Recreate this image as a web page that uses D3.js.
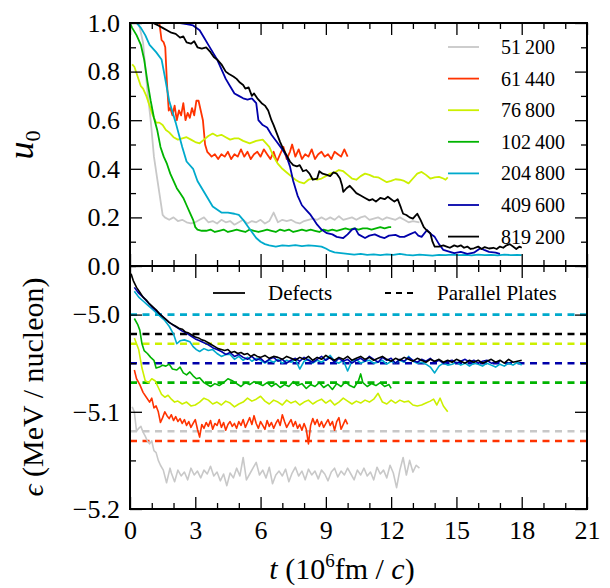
<!DOCTYPE html>
<html>
<head>
<meta charset="utf-8">
<script src="https://cdn.jsdelivr.net/npm/d3@7"></script>
<style>
body { margin: 0; background: #fff; }
svg text { font-family: "Liberation Serif", "DejaVu Serif", serif; fill: #000; }
</style>
</head>
<body>
<div id="chart"></div>
<script>
// system sizes (number of nucleons) and their colours
var sizes = ["51\u2009200", "61\u2009440", "76\u2009800", "102\u2009400", "204\u2009800", "409\u2009600", "819\u2009200"];
var colors = ["#c8c8c8", "#ff3300", "#ccf000", "#00b400", "#00aacc", "#0000aa", "#000000"];

// parallel plates energies (MeV/nucleon), same order as sizes
var plates = [-5.12, -5.13, -5.03, -5.07, -5.00, -5.05, -5.02];

// top panel: u0 vs t (10^6 fm/c)
var u51200 = [[0,1.0],[0.4,1.0],[0.6,0.92],[0.8,0.72],[0.95,0.6],[1.1,0.45],[1.25,0.36],[1.35,0.3],[1.5,0.21],[1.6,0.2],[1.8,0.19],[2.0,0.2],[2.2,0.185],[2.4,0.19],[2.6,0.18],[2.8,0.175],[3.0,0.18],[3.2,0.19],[3.4,0.2],[3.6,0.18],[3.8,0.185],[4.0,0.175],[4.2,0.19],[4.4,0.18],[4.6,0.185],[4.8,0.17],[5.0,0.18],[5.2,0.19],[5.4,0.175],[5.6,0.185],[5.8,0.18],[6.0,0.19],[6.2,0.175],[6.4,0.185],[6.6,0.22],[6.8,0.18],[7.0,0.19],[7.2,0.185],[7.4,0.19],[7.6,0.18],[7.8,0.175],[8.0,0.185],[8.2,0.19],[8.4,0.195],[8.6,0.19],[8.8,0.2],[9.0,0.19],[9.2,0.2],[9.4,0.19],[9.6,0.205],[9.8,0.19],[10.0,0.195],[10.2,0.2],[10.4,0.19],[10.6,0.2],[10.8,0.205],[11.0,0.19],[11.2,0.195],[11.4,0.2],[11.6,0.19],[11.8,0.2],[12.0,0.195],[12.2,0.19],[12.4,0.2],[12.6,0.19],[12.8,0.18],[13.0,0.185],[13.3,0.18]];
var u61440 = [[1.2,1.0],[1.35,1.0],[1.45,0.93],[1.55,0.92],[1.62,0.9],[1.7,0.75],[1.78,0.64],[1.85,0.65],[1.95,0.62],[2.05,0.66],[2.15,0.6],[2.25,0.64],[2.35,0.62],[2.45,0.67],[2.55,0.6],[2.65,0.63],[2.75,0.61],[2.85,0.65],[2.95,0.62],[3.05,0.68],[3.15,0.68],[3.25,0.64],[3.35,0.6],[3.45,0.5],[3.55,0.47],[3.65,0.46],[3.75,0.45],[3.9,0.46],[4.05,0.44],[4.2,0.46],[4.35,0.45],[4.5,0.47],[4.65,0.44],[4.8,0.46],[4.95,0.45],[5.1,0.48],[5.25,0.45],[5.4,0.47],[5.55,0.44],[5.7,0.46],[5.85,0.47],[6.0,0.45],[6.15,0.48],[6.3,0.46],[6.45,0.44],[6.6,0.47],[6.75,0.43],[6.9,0.46],[7.05,0.49],[7.2,0.44],[7.35,0.47],[7.45,0.5],[7.6,0.45],[7.75,0.48],[7.9,0.44],[8.05,0.46],[8.2,0.45],[8.35,0.48],[8.5,0.44],[8.65,0.46],[8.8,0.47],[8.95,0.45],[9.1,0.46],[9.25,0.44],[9.4,0.47],[9.55,0.46],[9.7,0.45],[9.85,0.48],[10.0,0.45]];
var u76800 = [[0.1,0.83],[0.2,0.82],[0.35,0.78],[0.5,0.74],[0.6,0.73],[0.75,0.7],[0.9,0.66],[1.05,0.62],[1.2,0.59],[1.35,0.59],[1.5,0.58],[1.65,0.56],[1.8,0.55],[2.0,0.53],[2.2,0.52],[2.4,0.525],[2.6,0.53],[2.8,0.52],[3.0,0.51],[3.2,0.505],[3.4,0.52],[3.6,0.535],[3.8,0.545],[4.0,0.535],[4.2,0.54],[4.4,0.53],[4.6,0.52],[4.8,0.525],[5.0,0.525],[5.2,0.515],[5.5,0.505],[5.8,0.515],[6.1,0.52],[6.4,0.49],[6.6,0.45],[6.8,0.42],[7.0,0.4],[7.2,0.385],[7.4,0.37],[7.6,0.355],[7.8,0.345],[8.0,0.34],[8.2,0.355],[8.4,0.36],[8.6,0.355],[8.8,0.36],[9.0,0.37],[9.2,0.38],[9.4,0.385],[9.6,0.395],[9.8,0.39],[10.0,0.375],[10.2,0.36],[10.4,0.355],[10.6,0.37],[10.8,0.38],[11.0,0.375],[11.2,0.367],[11.4,0.365],[11.6,0.355],[11.8,0.345],[12.0,0.35],[12.2,0.357],[12.4,0.355],[12.6,0.35],[12.8,0.34],[13.0,0.36],[13.2,0.38],[13.4,0.387],[13.6,0.375],[13.8,0.36],[14.0,0.365],[14.2,0.367],[14.4,0.36],[14.5,0.355],[14.6,0.365]];
var u102400 = [[0,1.0],[0.1,0.98],[0.3,0.95],[0.5,0.91],[0.65,0.85],[0.8,0.76],[0.95,0.68],[1.1,0.61],[1.25,0.56],[1.4,0.49],[1.55,0.45],[1.7,0.42],[1.85,0.38],[2.0,0.35],[2.15,0.32],[2.3,0.3],[2.45,0.28],[2.6,0.25],[2.75,0.22],[2.9,0.19],[3.0,0.16],[3.1,0.15],[3.3,0.145],[3.5,0.145],[3.7,0.15],[3.9,0.14],[4.1,0.145],[4.3,0.15],[4.5,0.14],[4.7,0.145],[4.9,0.15],[5.1,0.145],[5.3,0.14],[5.5,0.15],[5.7,0.145],[5.9,0.14],[6.1,0.145],[6.3,0.15],[6.5,0.145],[6.7,0.14],[6.9,0.15],[7.1,0.145],[7.3,0.15],[7.5,0.14],[7.7,0.145],[7.9,0.15],[8.1,0.145],[8.3,0.15],[8.5,0.145],[8.7,0.14],[8.9,0.15],[9.1,0.145],[9.3,0.15],[9.5,0.145],[9.7,0.15],[9.9,0.155],[10.1,0.15],[10.3,0.155],[10.5,0.15],[10.7,0.155],[10.9,0.155],[11.1,0.15],[11.3,0.155],[11.5,0.16],[11.7,0.155],[11.9,0.16],[12.0,0.16]];
var u204800 = [[0,1.0],[0.3,1.0],[0.5,0.98],[0.7,0.95],[0.9,0.91],[1.2,0.88],[1.45,0.85],[1.6,0.78],[1.8,0.68],[2.1,0.59],[2.4,0.49],[2.6,0.43],[2.9,0.4],[3.1,0.35],[3.5,0.29],[3.8,0.245],[4.2,0.22],[4.5,0.22],[4.8,0.215],[5.0,0.21],[5.2,0.19],[5.4,0.165],[5.6,0.14],[5.8,0.115],[6.0,0.1],[6.2,0.09],[6.4,0.085],[6.7,0.08],[7.0,0.085],[7.3,0.083],[7.6,0.086],[7.9,0.082],[8.2,0.085],[8.5,0.083],[8.8,0.08],[9.0,0.072],[9.2,0.062],[9.4,0.056],[9.7,0.053],[10.0,0.05],[10.3,0.047],[10.6,0.05],[10.9,0.046],[11.2,0.048],[11.5,0.045],[11.8,0.048],[12.1,0.046],[12.4,0.05],[12.7,0.046],[13.0,0.044],[13.3,0.047],[13.6,0.045],[13.9,0.043],[14.2,0.046],[14.5,0.045],[14.8,0.047],[15.1,0.045],[15.4,0.046],[15.7,0.044],[16.0,0.047],[16.3,0.045],[16.6,0.046],[16.9,0.044],[17.2,0.047],[17.5,0.045],[17.8,0.046],[18.0,0.045]];
var u409600 = [[0,1.0],[2.3,1.0],[2.6,0.995],[2.9,0.99],[3.2,0.97],[3.4,0.94],[3.6,0.91],[3.8,0.88],[4.0,0.85],[4.2,0.81],[4.4,0.77],[4.6,0.74],[4.8,0.71],[5.0,0.7],[5.2,0.69],[5.4,0.685],[5.6,0.69],[5.8,0.67],[5.9,0.6],[6.1,0.58],[6.3,0.57],[6.5,0.54],[6.75,0.51],[7.0,0.48],[7.2,0.45],[7.35,0.41],[7.5,0.35],[7.7,0.29],[7.9,0.25],[8.1,0.23],[8.3,0.21],[8.45,0.19],[8.6,0.17],[8.8,0.15],[9.05,0.135],[9.3,0.13],[9.5,0.12],[9.8,0.115],[10.0,0.13],[10.2,0.15],[10.35,0.155],[10.5,0.13],[10.8,0.115],[11.0,0.125],[11.25,0.13],[11.5,0.12],[11.7,0.115],[11.9,0.125],[12.2,0.128],[12.4,0.12],[12.6,0.12],[12.85,0.13],[13.1,0.14],[13.25,0.125],[13.4,0.12],[13.65,0.148],[13.85,0.13],[14.0,0.12],[14.2,0.09],[14.4,0.066],[14.7,0.058],[14.9,0.053],[15.2,0.058],[15.5,0.05],[15.8,0.055],[16.1,0.073],[16.3,0.065],[16.5,0.058],[16.8,0.055],[17.0,0.05]];
var u819200 = [[0,1.0],[1.05,1.0],[1.3,0.99],[1.5,0.98],[1.7,0.97],[1.9,0.96],[2.1,0.955],[2.3,0.94],[2.45,0.945],[2.6,0.92],[2.8,0.915],[2.95,0.925],[3.1,0.9],[3.3,0.895],[3.5,0.9],[3.7,0.88],[3.85,0.86],[4.0,0.85],[4.2,0.83],[4.4,0.8],[4.55,0.79],[4.75,0.78],[4.9,0.77],[5.05,0.755],[5.2,0.745],[5.3,0.73],[5.45,0.735],[5.6,0.7],[5.7,0.71],[5.85,0.69],[6.05,0.67],[6.2,0.66],[6.35,0.64],[6.5,0.6],[6.6,0.58],[6.75,0.545],[6.9,0.51],[7.05,0.48],[7.2,0.455],[7.35,0.43],[7.5,0.415],[7.67,0.41],[7.8,0.415],[7.95,0.39],[8.1,0.395],[8.25,0.38],[8.4,0.355],[8.6,0.36],[8.7,0.39],[8.85,0.38],[9.05,0.375],[9.2,0.37],[9.35,0.385],[9.5,0.38],[9.65,0.36],[9.75,0.33],[9.8,0.305],[9.95,0.32],[10.1,0.33],[10.25,0.315],[10.4,0.3],[10.6,0.29],[10.8,0.28],[11.0,0.27],[11.15,0.275],[11.3,0.265],[11.5,0.28],[11.7,0.275],[11.85,0.285],[12.0,0.275],[12.15,0.265],[12.3,0.275],[12.45,0.24],[12.55,0.215],[12.7,0.21],[12.85,0.2],[13.0,0.195],[13.1,0.205],[13.2,0.215],[13.35,0.19],[13.5,0.16],[13.65,0.145],[13.8,0.135],[13.9,0.1],[14.0,0.08],[14.2,0.08],[14.4,0.085],[14.55,0.08],[14.7,0.075],[14.9,0.085],[15.05,0.08],[15.2,0.085],[15.35,0.075],[15.5,0.08],[15.65,0.07],[15.8,0.073],[16.0,0.08],[16.15,0.07],[16.3,0.078],[16.5,0.072],[16.7,0.075],[16.85,0.07],[17.0,0.08],[17.15,0.075],[17.3,0.085],[17.45,0.09],[17.6,0.08],[17.75,0.07],[17.9,0.08],[18.0,0.075]];

// bottom panel: energy per nucleon (MeV) vs t, defects runs
var e51200 = [[0.1,-5.095],[0.2,-5.1],[0.3,-5.12],[0.4,-5.117],[0.5,-5.115],[0.6,-5.121],[0.7,-5.125],[0.8,-5.13],[0.9,-5.133],[1.0,-5.13],[1.1,-5.14],[1.2,-5.142],[1.3,-5.15],[1.4,-5.155],[1.53,-5.16],[1.68,-5.173],[1.84,-5.158],[1.9,-5.163],[2.05,-5.172],[2.2,-5.16],[2.35,-5.166],[2.5,-5.162],[2.65,-5.17],[2.8,-5.158],[2.95,-5.165],[3.1,-5.161],[3.25,-5.168],[3.4,-5.16],[3.55,-5.164],[3.7,-5.156],[3.85,-5.166],[4.0,-5.162],[4.15,-5.171],[4.3,-5.164],[4.45,-5.176],[4.6,-5.163],[4.75,-5.168],[4.9,-5.158],[5.05,-5.166],[5.2,-5.147],[5.35,-5.17],[5.5,-5.164],[5.65,-5.158],[5.8,-5.152],[5.95,-5.165],[6.1,-5.16],[6.25,-5.168],[6.4,-5.157],[6.55,-5.174],[6.7,-5.165],[6.85,-5.161],[7.0,-5.166],[7.15,-5.159],[7.3,-5.172],[7.45,-5.163],[7.6,-5.157],[7.75,-5.166],[7.9,-5.161],[8.05,-5.17],[8.2,-5.159],[8.35,-5.165],[8.5,-5.161],[8.65,-5.169],[8.8,-5.16],[8.95,-5.164],[9.1,-5.171],[9.25,-5.162],[9.4,-5.158],[9.55,-5.167],[9.7,-5.161],[9.85,-5.165],[10.0,-5.158],[10.15,-5.164],[10.3,-5.17],[10.45,-5.16],[10.6,-5.165],[10.75,-5.158],[10.9,-5.166],[11.05,-5.162],[11.2,-5.17],[11.35,-5.157],[11.5,-5.164],[11.65,-5.16],[11.8,-5.168],[11.95,-5.155],[12.1,-5.163],[12.25,-5.178],[12.4,-5.16],[12.55,-5.147],[12.7,-5.165],[12.85,-5.15],[13.0,-5.162],[13.15,-5.155],[13.3,-5.158]];
var e61440 = [[0.2,-5.057],[0.3,-5.066],[0.45,-5.072],[0.6,-5.08],[0.75,-5.085],[0.9,-5.09],[1.0,-5.086],[1.1,-5.096],[1.2,-5.094],[1.3,-5.1],[1.4,-5.111],[1.5,-5.106],[1.6,-5.1],[1.7,-5.104],[1.8,-5.107],[1.9,-5.103],[2.0,-5.109],[2.1,-5.105],[2.2,-5.11],[2.3,-5.107],[2.4,-5.112],[2.5,-5.108],[2.6,-5.114],[2.7,-5.11],[2.8,-5.116],[2.9,-5.112],[3.0,-5.108],[3.1,-5.118],[3.2,-5.126],[3.3,-5.113],[3.4,-5.117],[3.5,-5.111],[3.6,-5.115],[3.7,-5.109],[3.8,-5.118],[3.9,-5.112],[4.0,-5.114],[4.1,-5.108],[4.2,-5.116],[4.3,-5.111],[4.4,-5.119],[4.5,-5.113],[4.6,-5.11],[4.7,-5.115],[4.8,-5.112],[4.9,-5.117],[5.0,-5.11],[5.1,-5.114],[5.2,-5.108],[5.3,-5.116],[5.4,-5.111],[5.5,-5.106],[5.6,-5.113],[5.7,-5.104],[5.8,-5.112],[5.9,-5.117],[6.0,-5.11],[6.1,-5.114],[6.2,-5.118],[6.3,-5.109],[6.4,-5.115],[6.5,-5.111],[6.6,-5.117],[6.7,-5.112],[6.8,-5.108],[6.9,-5.114],[7.0,-5.103],[7.1,-5.11],[7.2,-5.116],[7.3,-5.112],[7.4,-5.108],[7.5,-5.115],[7.6,-5.11],[7.7,-5.117],[7.8,-5.113],[7.9,-5.119],[8.0,-5.112],[8.1,-5.118],[8.2,-5.133],[8.3,-5.114],[8.4,-5.107],[8.5,-5.113],[8.6,-5.108],[8.7,-5.115],[8.8,-5.11],[8.9,-5.116],[9.0,-5.112],[9.1,-5.108],[9.2,-5.114],[9.3,-5.11],[9.4,-5.119],[9.5,-5.11],[9.6,-5.106],[9.7,-5.118],[9.8,-5.113],[9.9,-5.108],[10.0,-5.113]];
var e76800 = [[0.2,-5.024],[0.3,-5.03],[0.4,-5.036],[0.55,-5.055],[0.7,-5.068],[0.85,-5.07],[1.0,-5.066],[1.15,-5.068],[1.3,-5.075],[1.45,-5.082],[1.6,-5.085],[1.75,-5.083],[1.9,-5.087],[2.05,-5.09],[2.2,-5.089],[2.4,-5.092],[2.6,-5.09],[2.8,-5.094],[3.0,-5.093],[3.2,-5.09],[3.4,-5.086],[3.6,-5.088],[3.8,-5.092],[4.0,-5.09],[4.2,-5.093],[4.4,-5.089],[4.6,-5.091],[4.8,-5.095],[5.0,-5.092],[5.2,-5.09],[5.4,-5.086],[5.6,-5.089],[5.8,-5.087],[6.0,-5.084],[6.2,-5.089],[6.4,-5.092],[6.6,-5.088],[6.8,-5.09],[7.0,-5.093],[7.2,-5.088],[7.4,-5.091],[7.6,-5.089],[7.8,-5.093],[8.0,-5.09],[8.2,-5.088],[8.4,-5.092],[8.6,-5.089],[8.8,-5.087],[9.0,-5.091],[9.2,-5.088],[9.4,-5.093],[9.6,-5.09],[9.8,-5.086],[10.0,-5.089],[10.2,-5.092],[10.4,-5.089],[10.6,-5.091],[10.8,-5.088],[11.0,-5.09],[11.2,-5.087],[11.4,-5.081],[11.6,-5.09],[11.8,-5.092],[12.0,-5.088],[12.2,-5.091],[12.4,-5.088],[12.6,-5.09],[12.8,-5.089],[13.0,-5.093],[13.2,-5.094],[13.4,-5.093],[13.6,-5.091],[13.8,-5.089],[13.95,-5.087],[14.1,-5.093],[14.25,-5.086],[14.4,-5.094],[14.6,-5.1]];
var e102400 = [[0.2,-5.004],[0.35,-5.01],[0.45,-5.016],[0.55,-5.03],[0.65,-5.037],[0.8,-5.04],[0.95,-5.044],[1.1,-5.047],[1.2,-5.055],[1.35,-5.054],[1.5,-5.052],[1.65,-5.053],[1.8,-5.051],[1.95,-5.056],[2.15,-5.057],[2.3,-5.054],[2.45,-5.06],[2.6,-5.062],[2.75,-5.059],[2.9,-5.063],[3.05,-5.066],[3.2,-5.065],[3.4,-5.07],[3.55,-5.072],[3.7,-5.074],[3.9,-5.071],[4.1,-5.073],[4.3,-5.07],[4.5,-5.066],[4.7,-5.068],[4.9,-5.071],[5.1,-5.074],[5.3,-5.07],[5.5,-5.072],[5.7,-5.069],[5.9,-5.071],[6.1,-5.073],[6.3,-5.07],[6.5,-5.074],[6.7,-5.071],[6.9,-5.075],[7.1,-5.072],[7.3,-5.074],[7.5,-5.069],[7.7,-5.073],[7.9,-5.071],[8.1,-5.076],[8.3,-5.072],[8.5,-5.074],[8.7,-5.07],[8.9,-5.075],[9.1,-5.072],[9.3,-5.077],[9.5,-5.071],[9.7,-5.074],[9.9,-5.069],[10.1,-5.073],[10.3,-5.075],[10.5,-5.068],[10.6,-5.061],[10.7,-5.07],[10.9,-5.074],[11.1,-5.071],[11.3,-5.073],[11.5,-5.07],[11.7,-5.074],[11.9,-5.072],[12.0,-5.076]];
var e204800 = [[0.2,-4.976],[0.4,-4.982],[0.6,-4.986],[0.8,-4.99],[1.0,-4.994],[1.2,-4.998],[1.4,-5.002],[1.6,-5.006],[1.8,-5.012],[2.0,-5.02],[2.15,-5.03],[2.3,-5.027],[2.5,-5.026],[2.75,-5.028],[2.9,-5.033],[3.05,-5.036],[3.2,-5.038],[3.4,-5.035],[3.6,-5.037],[3.8,-5.036],[4.0,-5.04],[4.2,-5.043],[4.4,-5.041],[4.6,-5.041],[4.8,-5.046],[5.0,-5.043],[5.2,-5.047],[5.4,-5.044],[5.6,-5.048],[5.8,-5.045],[6.0,-5.047],[6.2,-5.05],[6.4,-5.047],[6.6,-5.049],[6.8,-5.046],[7.0,-5.05],[7.2,-5.047],[7.4,-5.049],[7.6,-5.046],[7.8,-5.056],[8.0,-5.048],[8.2,-5.046],[8.4,-5.05],[8.6,-5.047],[8.8,-5.049],[9.0,-5.046],[9.2,-5.042],[9.4,-5.048],[9.6,-5.05],[9.8,-5.047],[10.0,-5.058],[10.2,-5.048],[10.4,-5.046],[10.6,-5.05],[10.8,-5.048],[11.0,-5.047],[11.2,-5.05],[11.4,-5.049],[11.6,-5.047],[11.8,-5.051],[12.0,-5.048],[12.2,-5.05],[12.4,-5.047],[12.6,-5.049],[12.8,-5.043],[13.0,-5.048],[13.2,-5.05],[13.4,-5.049],[13.6,-5.051],[13.8,-5.054],[14.0,-5.06],[14.2,-5.053],[14.4,-5.05],[14.6,-5.052],[14.8,-5.051],[15.0,-5.049],[15.2,-5.052],[15.4,-5.05],[15.6,-5.053],[15.8,-5.05],[16.0,-5.051],[16.2,-5.053],[16.4,-5.05],[16.6,-5.052],[16.8,-5.054],[17.0,-5.051],[17.2,-5.053],[17.4,-5.05],[17.6,-5.052],[17.8,-5.049],[18.0,-5.052]];
var e409600 = [[0.2,-4.972],[0.4,-4.978],[0.6,-4.982],[0.8,-4.987],[1.0,-4.992],[1.2,-4.996],[1.4,-5.0],[1.6,-5.004],[1.8,-5.008],[2.0,-5.011],[2.2,-5.014],[2.4,-5.017],[2.6,-5.019],[2.8,-5.022],[3.0,-5.025],[3.2,-5.027],[3.4,-5.029],[3.6,-5.031],[3.8,-5.034],[4.0,-5.036],[4.2,-5.038],[4.4,-5.041],[4.6,-5.039],[4.8,-5.043],[5.0,-5.041],[5.2,-5.044],[5.4,-5.046],[5.6,-5.043],[5.8,-5.047],[6.0,-5.045],[6.2,-5.049],[6.4,-5.046],[6.6,-5.044],[6.8,-5.048],[7.0,-5.046],[7.2,-5.05],[7.4,-5.047],[7.6,-5.045],[7.8,-5.048],[8.0,-5.044],[8.2,-5.047],[8.4,-5.049],[8.6,-5.046],[8.8,-5.043],[9.0,-5.047],[9.2,-5.044],[9.4,-5.049],[9.6,-5.045],[9.8,-5.048],[10.0,-5.046],[10.2,-5.05],[10.4,-5.047],[10.6,-5.045],[10.8,-5.048],[11.0,-5.043],[11.2,-5.046],[11.4,-5.049],[11.6,-5.044],[11.8,-5.047],[12.0,-5.045],[12.2,-5.05],[12.4,-5.046],[12.6,-5.048],[12.8,-5.044],[13.0,-5.047],[13.2,-5.049],[13.4,-5.046],[13.6,-5.048],[13.8,-5.045],[14.0,-5.049],[14.2,-5.047],[14.4,-5.05],[14.6,-5.048],[14.8,-5.047],[15.0,-5.05],[15.2,-5.048],[15.4,-5.046],[15.6,-5.049],[15.8,-5.047],[16.0,-5.05],[16.2,-5.048],[16.4,-5.047],[16.6,-5.05],[16.8,-5.049],[17.0,-5.048]];
var e819200 = [[0.05,-4.958],[0.15,-4.965],[0.3,-4.972],[0.45,-4.977],[0.6,-4.982],[0.75,-4.985],[0.9,-4.989],[1.05,-4.992],[1.2,-4.995],[1.35,-4.999],[1.5,-5.002],[1.65,-5.005],[1.8,-5.008],[1.95,-5.01],[2.1,-5.012],[2.25,-5.014],[2.4,-5.015],[2.55,-5.018],[2.7,-5.019],[2.85,-5.021],[3.0,-5.023],[3.15,-5.024],[3.3,-5.026],[3.45,-5.027],[3.6,-5.029],[3.75,-5.031],[3.9,-5.033],[4.05,-5.035],[4.2,-5.036],[4.35,-5.037],[4.5,-5.036],[4.65,-5.039],[4.8,-5.038],[4.95,-5.04],[5.1,-5.039],[5.25,-5.041],[5.4,-5.04],[5.55,-5.043],[5.7,-5.041],[5.85,-5.043],[6.0,-5.044],[6.2,-5.042],[6.4,-5.045],[6.6,-5.043],[6.8,-5.044],[7.0,-5.046],[7.2,-5.043],[7.4,-5.045],[7.6,-5.047],[7.8,-5.044],[8.0,-5.046],[8.2,-5.043],[8.4,-5.047],[8.6,-5.044],[8.8,-5.046],[9.0,-5.042],[9.2,-5.045],[9.4,-5.047],[9.6,-5.044],[9.8,-5.046],[10.0,-5.043],[10.2,-5.047],[10.4,-5.045],[10.6,-5.043],[10.8,-5.046],[11.0,-5.044],[11.2,-5.047],[11.4,-5.045],[11.6,-5.043],[11.8,-5.046],[12.0,-5.048],[12.2,-5.045],[12.4,-5.047],[12.6,-5.044],[12.8,-5.046],[13.0,-5.048],[13.2,-5.045],[13.4,-5.047],[13.6,-5.049],[13.8,-5.046],[14.0,-5.048],[14.2,-5.046],[14.4,-5.049],[14.6,-5.047],[14.8,-5.049],[15.0,-5.046],[15.2,-5.048],[15.4,-5.05],[15.6,-5.047],[15.8,-5.049],[16.0,-5.047],[16.2,-5.05],[16.4,-5.048],[16.6,-5.046],[16.8,-5.049],[17.0,-5.047],[17.2,-5.05],[17.4,-5.046],[17.6,-5.049],[17.8,-5.048],[18.0,-5.047]];

var uSeries = [u51200, u61440, u76800, u102400, u204800, u409600, u819200];
var eSeries = [e51200, e61440, e76800, e102400, e204800, e409600, e819200];

var xMajor = [0, 3, 6, 9, 12, 15, 18, 21];
var xMinor = [1, 2, 4, 5, 7, 8, 10, 11, 13, 14, 16, 17, 19, 20];
var uMajor = [0, 0.2, 0.4, 0.6, 0.8, 1.0];
var uMinor = [0.1, 0.3, 0.5, 0.7, 0.9];
var eMajor = [-5.2, -5.1, -5.0];
var eMinor = [-5.15, -5.05, -4.95];

var margin = { left: 130, top: 23 },
    width = 457,
    panelH = 243;

var svg = d3.select('#chart').append('svg')
    .attr('width', 610)
    .attr('height', 588);

var x = d3.scaleLinear().domain([0, 21]).range([0, width]);
var yTop = d3.scaleLinear().domain([0, 1]).range([panelH, 0]);
var yBot = d3.scaleLinear().domain([-5.2, -4.95]).range([panelH, 0]);

var topPanel = svg.append('g').attr('transform', 'translate(' + margin.left + ',' + margin.top + ')');
var botPanel = svg.append('g').attr('transform', 'translate(' + margin.left + ',' + (margin.top + panelH) + ')');

function drawTicks(g, y, yMaj, yMin, yFmt, showX) {
    var big = 12, small = 6;
    function style(a) {
        a.select('.domain').remove();
        a.selectAll('line').attr('stroke', '#000').attr('stroke-width', 1.3);
        a.selectAll('text').attr('font-size', 26).attr('font-family', '"Liberation Serif", serif');
    }
    g.append('g').call(d3.axisLeft(y).tickValues(yMaj).tickSize(-big).tickPadding(10).tickFormat(yFmt)).call(style);
    g.append('g').call(d3.axisLeft(y).tickValues(yMin).tickSize(-small).tickFormat('')).call(style);
    g.append('g').attr('transform', 'translate(' + width + ',0)')
        .call(d3.axisRight(y).tickValues(yMaj).tickSize(-big).tickFormat('')).call(style);
    g.append('g').attr('transform', 'translate(' + width + ',0)')
        .call(d3.axisRight(y).tickValues(yMin).tickSize(-small).tickFormat('')).call(style);
    g.append('g').call(d3.axisTop(x).tickValues(xMajor).tickSize(-big).tickFormat('')).call(style);
    g.append('g').call(d3.axisTop(x).tickValues(xMinor).tickSize(-small).tickFormat('')).call(style);
    g.append('g').attr('transform', 'translate(0,' + panelH + ')')
        .call(d3.axisBottom(x).tickValues(xMajor).tickSize(-big).tickPadding(12)
            .tickFormat(showX ? d3.format('d') : '')).call(style);
    g.append('g').attr('transform', 'translate(0,' + panelH + ')')
        .call(d3.axisBottom(x).tickValues(xMinor).tickSize(-small).tickFormat('')).call(style);
}

// top panel curves
var lineTop = d3.line().x(function(d) { return x(d[0]); }).y(function(d) { return yTop(d[1]); });
topPanel.selectAll('.u-line')
    .data(uSeries)
    .enter().append('path')
    .attr('class', 'u-line')
    .attr('d', lineTop)
    .attr('fill', 'none')
    .attr('stroke', function(d, i) { return colors[i]; })
    .attr('stroke-width', 1.8)
    .attr('stroke-linejoin', 'round');

// top legend
var leg = topPanel.append('g').attr('transform', 'translate(' + (448 - margin.left) + ',' + (47 - margin.top) + ')');
sizes.forEach(function(s, i) {
    var yy = i * 31.6;
    leg.append('line')
        .attr('x1', 0).attr('x2', 31)
        .attr('y1', yy).attr('y2', yy)
        .attr('stroke', colors[i])
        .attr('stroke-width', 1.8);
    leg.append('text')
        .attr('x', 53).attr('y', yy + 7)
        .attr('font-size', 20)
        .text(s);
});

// bottom panel: parallel plates (dashed) then defects (solid)
botPanel.selectAll('.plate')
    .data(plates)
    .enter().append('line')
    .attr('class', 'plate')
    .attr('x1', 0).attr('x2', width)
    .attr('y1', function(d) { return yBot(d); })
    .attr('y2', function(d) { return yBot(d); })
    .attr('stroke', function(d, i) { return colors[i]; })
    .attr('stroke-width', 2.6)
    .attr('stroke-dasharray', '7,5.5');

var lineBot = d3.line().x(function(d) { return x(d[0]); }).y(function(d) { return yBot(d[1]); });
botPanel.selectAll('.e-line')
    .data(eSeries)
    .enter().append('path')
    .attr('class', 'e-line')
    .attr('d', lineBot)
    .attr('fill', 'none')
    .attr('stroke', function(d, i) { return colors[i]; })
    .attr('stroke-width', 1.6)
    .attr('stroke-linejoin', 'round');

// bottom legend
var leg2 = botPanel.append('g').attr('transform', 'translate(0,' + (293 - margin.top - panelH) + ')');
leg2.append('line').attr('x1', 213 - margin.left).attr('x2', 245 - margin.left)
    .attr('y1', 0).attr('y2', 0).attr('stroke', '#000').attr('stroke-width', 1.8);
leg2.append('text').attr('x', 268 - margin.left).attr('y', 7).attr('font-size', 21).text('Defects');
leg2.append('line').attr('x1', 385 - margin.left).attr('x2', 413 - margin.left)
    .attr('y1', 0).attr('y2', 0).attr('stroke', '#000').attr('stroke-width', 1.8)
    .attr('stroke-dasharray', '6,5');
leg2.append('text').attr('x', 437 - margin.left).attr('y', 7).attr('font-size', 21).text('Parallel Plates');

// ticks and frames
drawTicks(topPanel, yTop, uMajor, uMinor, d3.format('.1f'), false);
drawTicks(botPanel, yBot, eMajor, eMinor, d3.format('.1f'), true);
[topPanel, botPanel].forEach(function(g) {
    g.append('rect')
        .attr('width', width).attr('height', panelH)
        .attr('fill', 'none')
        .attr('stroke', '#000')
        .attr('stroke-width', 2);
});

// axis labels
var uLab = svg.append('text')
    .attr('transform', 'translate(33,145) rotate(-90)')
    .attr('text-anchor', 'middle')
    .attr('font-size', 36);
uLab.append('tspan').attr('font-style', 'italic').text('u');
uLab.append('tspan').attr('font-size', 22).attr('dy', 7).text('0');

var eLab = svg.append('text')
    .attr('transform', 'translate(43,387) rotate(-90)')
    .attr('text-anchor', 'middle')
    .attr('font-size', 30);
eLab.append('tspan').attr('font-style', 'italic').text('\u03f5');
eLab.append('tspan').text(' (MeV / nucleon)');

var tLab = svg.append('text')
    .attr('x', 342).attr('y', 579)
    .attr('text-anchor', 'middle')
    .attr('font-size', 30);
tLab.append('tspan').attr('font-style', 'italic').text('t');
tLab.append('tspan').text(' (10');
tLab.append('tspan').attr('font-size', 19).attr('dy', -12).text('6');
tLab.append('tspan').attr('dy', 12).text('fm / ');
tLab.append('tspan').attr('font-style', 'italic').text('c');
tLab.append('tspan').text(')');
</script>
</body>
</html>
